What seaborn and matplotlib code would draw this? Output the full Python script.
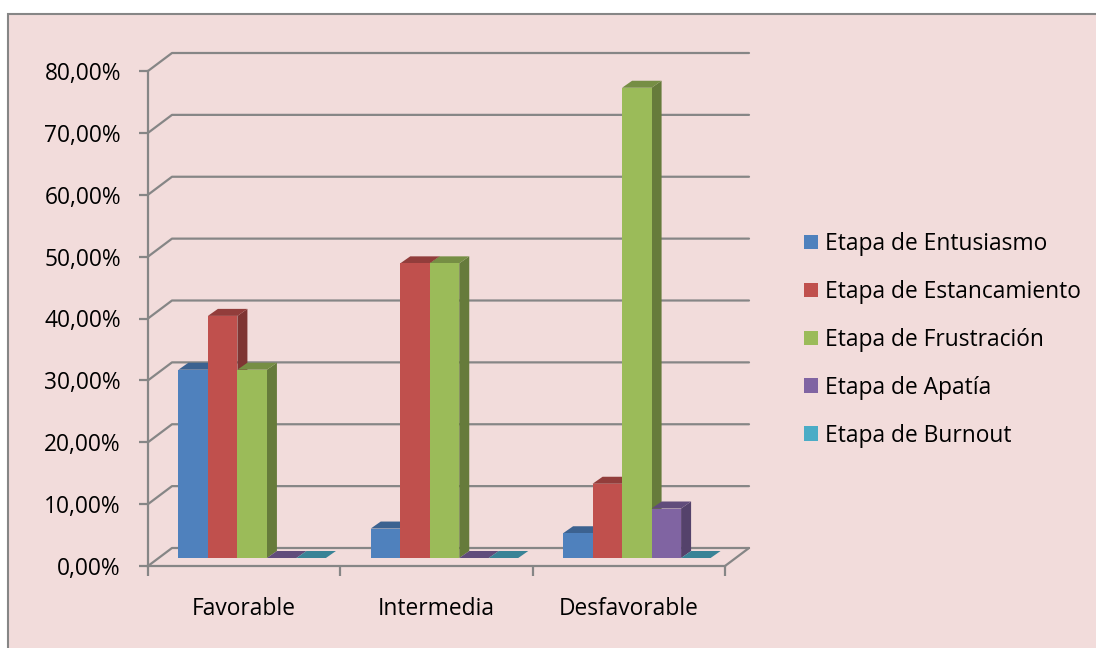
import numpy as np
import pandas as pd
import seaborn as sns
import matplotlib
matplotlib.use("Agg")
import matplotlib.pyplot as plt
from matplotlib.patches import Polygon, Patch, Rectangle
from matplotlib.lines import Line2D
from matplotlib.transforms import IdentityTransform, offset_copy
from matplotlib.ticker import FuncFormatter

# ---- data -------------------------------------------------------------
niveles = ["Favorable", "Intermedia", "Desfavorable"]
etapas = ["Etapa de Entusiasmo", "Etapa de Estancamiento", "Etapa de Frustración",
          "Etapa de Apatía", "Etapa de Burnout"]
entusiasmo = [30.43, 4.76, 4.00]
estancamiento = [39.13, 47.62, 12.00]
frustracion = [30.43, 47.62, 76.00]
apatia = [0.00, 0.00, 8.00]
burnout = [0.00, 0.00, 0.00]
y_ticks = list(range(0, 81, 10))

colores = ["#4F81BD", "#C0504D", "#9BBB59", "#8064A2", "#4BACC6"]

series = [entusiasmo, estancamiento, frustracion, apatia, burnout]
df = pd.DataFrame({
    "Nivel": [n for s in series for n in niveles],
    "Etapa": [e for e, s in zip(etapas, series) for _ in s],
    "Valor": [v for s in series for v in s],
})

# ---- style ------------------------------------------------------------
W, H = 1096, 648
fondo = "#F2DCDB"
gris = "#868686"
fs = 16.4
sns.set_theme(style="white")
plt.rcParams["font.family"] = ["Open Sans", "DejaVu Sans"]

fig = plt.figure(figsize=(W / 100, H / 100), dpi=100, facecolor="white")
marco = Rectangle((8 / W, -0.05), 1.2, (H - 14) / H + 0.05,
                  transform=fig.transFigure, facecolor=fondo,
                  edgecolor=gris, linewidth=1.5, zorder=-10)
fig.patches.append(marco)

ax = fig.add_axes([148 / W, (H - 566) / H, 577 / W, 495 / H])
ax.patch.set_visible(False)

sns.barplot(data=df, x="Nivel", y="Valor", hue="Etapa", order=niveles,
            hue_order=etapas, palette=colores, saturation=1, width=0.767,
            legend=False, ax=ax, linewidth=0)

ax.set_xlim(-0.5, 2.5)
ax.set_ylim(0, 80)

# depth geometry (pixels)
wall = (24, 18)      # back wall offset from front plane
front = (8, 8)       # bar front faces
depth = (10, 7)      # bar thickness

def shade(c, f):
    r, g, b = matplotlib.colors.to_rgb(c)
    return (r * f, g * f, b * f)

# back wall gridlines
for v in y_ticks:
    p = ax.transData.transform((-0.5, v))
    r = ax.transData.transform((2.5, v))
    xs = [p[0], p[0] + wall[0], r[0] + wall[0]]
    ys = [p[1], p[1] + wall[1], r[1] + wall[1]]
    ax.add_line(Line2D(xs, ys, transform=IdentityTransform(), color=gris,
                       linewidth=1.6, clip_on=False, zorder=1))
# right edge of floor
p = ax.transData.transform((2.5, 0))
ax.add_line(Line2D([p[0], p[0] + wall[0]], [p[1], p[1] + wall[1]],
                   transform=IdentityTransform(), color=gris, linewidth=1.6,
                   clip_on=False, zorder=1))

# 3-D columns
front_tr = offset_copy(ax.transData, fig=fig, x=front[0], y=front[1], units="dots")
bars = sorted(ax.patches, key=lambda b: b.get_x())
for i, bar in enumerate(bars):
    col = bar.get_facecolor()
    z = 2 + i * 0.1
    bar.set_transform(front_tr)
    bar.set_zorder(z + 0.05)
    bar.set_clip_on(False)
    x0, w, h = bar.get_x(), bar.get_width(), bar.get_height()
    tl = front_tr.transform((x0, h))
    tr_ = front_tr.transform((x0 + w, h))
    br = front_tr.transform((x0 + w, 0))
    dx, dy = depth
    top = [tl, tr_, (tr_[0] + dx, tr_[1] + dy), (tl[0] + dx, tl[1] + dy)]
    side = [br, tr_, (tr_[0] + dx, tr_[1] + dy), (br[0] + dx, br[1] + dy)]
    ax.add_patch(Polygon(side, closed=True, transform=IdentityTransform(),
                         facecolor=shade(col, 0.66), edgecolor="none",
                         clip_on=False, zorder=z))
    ax.add_patch(Polygon(top, closed=True, transform=IdentityTransform(),
                         facecolor=shade(col, 0.76), edgecolor="none",
                         clip_on=False, zorder=z + 0.02))

# axes, ticks and labels
for s in ["top", "right"]:
    ax.spines[s].set_visible(False)
for s in ["left", "bottom"]:
    ax.spines[s].set_color(gris)
    ax.spines[s].set_linewidth(1.6)
    ax.spines[s].set_zorder(1)

ax.set_yticks(y_ticks)
ax.yaxis.set_major_formatter(FuncFormatter(lambda v, _: f"{v:.2f}".replace(".", ",") + "%"))
ax.tick_params(axis="y", length=6.5, width=1.6, color=gris, labelsize=fs,
               labelcolor="black", pad=13, left=True)
ax.set_xticks(range(len(niveles)))
ax.set_xticklabels(niveles)
ax.set_xticks([-0.5, 0.5, 1.5, 2.5], minor=True)
ax.tick_params(axis="x", which="major", length=0, labelsize=fs,
               labelcolor="black", pad=22.5)
ax.tick_params(axis="x", which="minor", length=7, width=1.6, color=gris,
               bottom=True)
ax.set_xlabel("")
ax.set_ylabel("")

handles = [Patch(facecolor=c, edgecolor="none") for c in colores]
fig.legend(handles, etapas, loc="upper left", bbox_to_anchor=(795 / W, 1 - 223 / H),
           frameon=False, fontsize=fs, handlelength=0.62, handleheight=0.62,
           handletextpad=0.3, labelspacing=1.05, borderaxespad=0,
           labelcolor="black")

fig.savefig("out.png", dpi=100, facecolor=fig.get_facecolor())
